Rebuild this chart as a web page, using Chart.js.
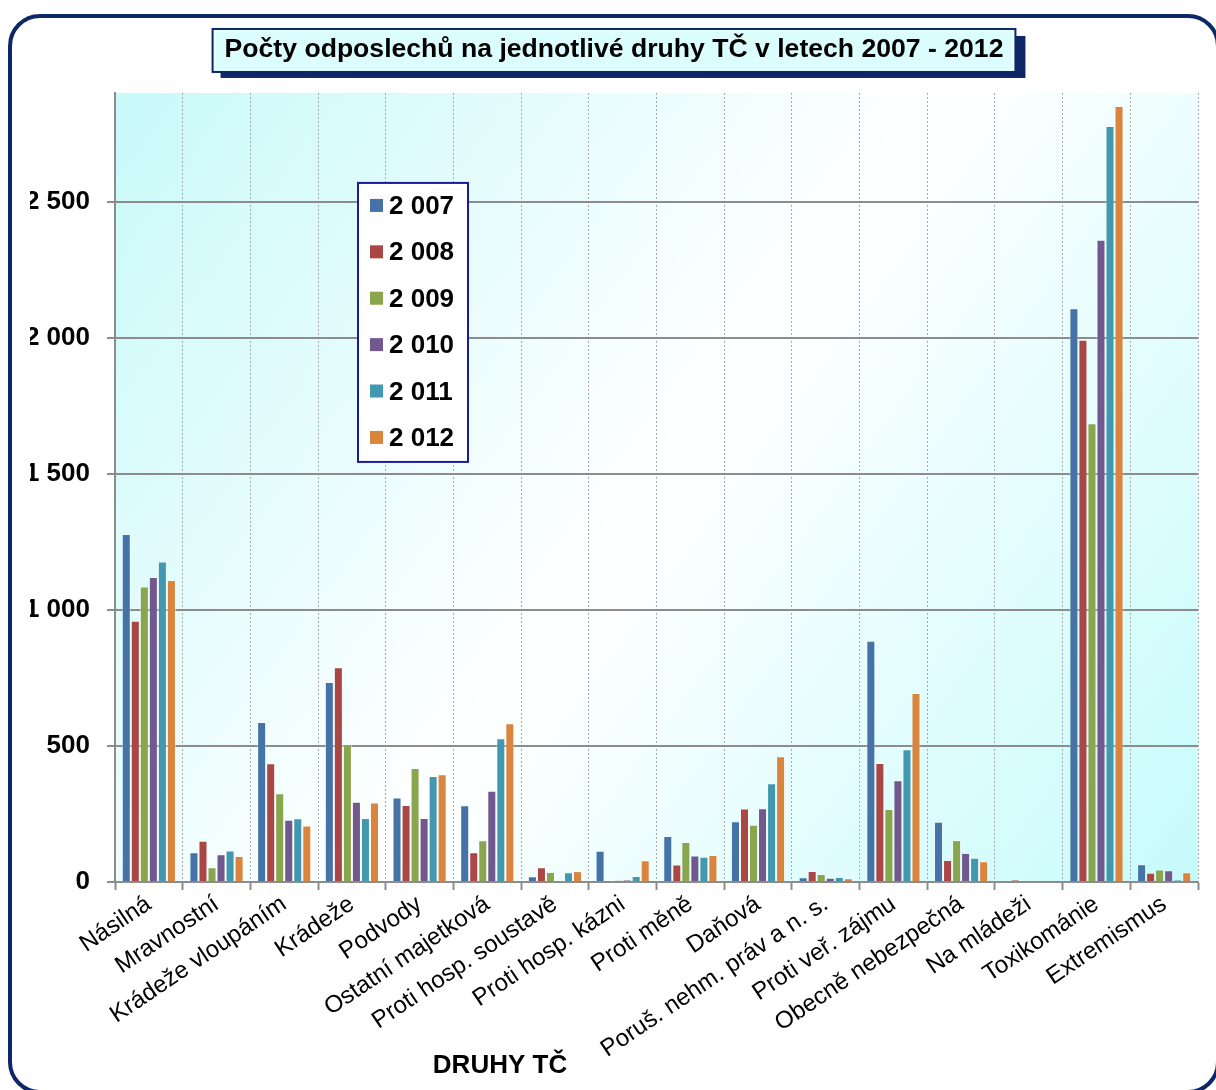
<!DOCTYPE html>
<html>
<head>
<meta charset="utf-8">
<title>Počty odposlechů</title>
<script src="https://cdn.jsdelivr.net/npm/chart.js@4"></script>
<style>
  body { margin: 0; background: #fff; }
  #wrap { position: relative; width: 1216px; height: 1090px; overflow: hidden; }
  #frame { position: absolute; left: 8px; top: 14px; width: 1212px; height: 1080px; border: 4px solid #0e2766; border-radius: 32px; box-sizing: border-box; pointer-events: none; }
</style>
</head>
<body>
<div id="wrap">
  <canvas id="myChart" width="1216" height="1090"></canvas>
  <div id="frame"></div>
</div>
<script>
const categories = ['Násilná', 'Mravnostní', 'Krádeže vloupáním', 'Krádeže', 'Podvody', 'Ostatní majetková',
    'Proti hosp. soustavě', 'Proti hosp. kázni', 'Proti měně', 'Daňová', 'Poruš. nehm. práv a n. s.',
    'Proti veř. zájmu', 'Obecně nebezpečná', 'Na mládeži', 'Toxikománie', 'Extremismus'];
const years = ['2 007', '2 008', '2 009', '2 010', '2 011', '2 012'];

const y2007 = [1279, 109, 588, 735, 311, 282, 21, 115, 169, 223, 17, 887, 221, 0, 2109, 65];
const y2008 = [960, 152, 436, 789, 283, 109, 54, 0, 64, 270, 40, 437, 81, 7, 1993, 34];
const y2009 = [1086, 54, 326, 507, 419, 153, 37, 6, 147, 210, 29, 268, 154, 0, 1686, 46];
const y2010 = [1121, 102, 229, 295, 235, 335, 0, 7, 97, 271, 16, 374, 107, 0, 2360, 43];
const y2011 = [1178, 116, 234, 235, 390, 528, 36, 22, 93, 363, 18, 488, 89, 0, 2778, 7];
const y2012 = [1110, 96, 208, 292, 396, 583, 40, 80, 99, 462, 14, 695, 76, 0, 2852, 36];

const yTicks = [0, 500, 1000, 1500, 2000, 2500];
const yMax = 2900;

const colors = ['#4572a7', '#aa4643', '#89a54e', '#71588f', '#4198af', '#db843d'];
const series = [y2007, y2008, y2009, y2010, y2011, y2012];

const FONT = '"Liberation Sans", Arial, sans-serif';

// 2500 -> "2 500"
const spaced = n => String(Math.round(n)).replace(/\B(?=(\d{3})+(?!\d))/g, ' ');

const plotBg = {
    id: 'plotBg',
    beforeDraw(chart) {
        const {ctx, chartArea: a} = chart;
        const g = ctx.createLinearGradient(a.left, a.top, a.right, a.bottom);
        g.addColorStop(0, '#c8f9f9');
        g.addColorStop(0.5, '#ffffff');
        g.addColorStop(1, '#c6fbfb');
        ctx.save();
        ctx.fillStyle = g;
        ctx.fillRect(a.left, a.top, a.right - a.left, a.bottom - a.top);
        ctx.restore();
    }
};

const titleBox = {
    id: 'titleBox',
    beforeDraw(chart) {
        const {ctx} = chart;
        const tb = chart.titleBlock;
        const opts = chart.options.plugins.title;
        ctx.save();
        ctx.font = 'bold ' + opts.font.size + 'px ' + FONT;
        const w = ctx.measureText(opts.text).width + 22;
        const cx = tb.left + tb.width / 2;
        const cy = tb.top + opts.padding.top + opts.font.size * 1.2 / 2;
        const x = cx - w / 2, y = cy - 20, h = 41;
        ctx.fillStyle = '#0e2766';
        ctx.fillRect(x + 7, y + 6, w + 4, h + 1);
        ctx.fillRect(x - 2, y - 2, w + 4, h + 4);
        ctx.fillStyle = '#dcfdfd';
        ctx.fillRect(x, y, w, h);
        ctx.strokeStyle = '#ffffff';
        ctx.lineWidth = 1;
        ctx.strokeRect(x + 1.5, y + 1.5, w - 3, h - 3);
        ctx.restore();
    }
};

const legendBox = {
    id: 'legendBox',
    afterDatasetsDraw(chart) {
        const {ctx, chartArea: a} = chart;
        const x = a.left + 243, y = a.top + 90, w = 110, h = 279;
        ctx.save();
        ctx.fillStyle = '#ffffff';
        ctx.fillRect(x, y, w, h);
        ctx.strokeStyle = '#1a1a9a';
        ctx.lineWidth = 2;
        ctx.strokeRect(x, y, w, h);
        ctx.font = 'bold 26px ' + FONT;
        ctx.textBaseline = 'middle';
        chart.data.datasets.forEach((ds, i) => {
            const cy = y + 23 + i * 46.4;
            ctx.fillStyle = ds.backgroundColor;
            ctx.fillRect(x + 12, cy - 7, 13, 13);
            ctx.fillStyle = '#000';
            ctx.fillText(ds.label, x + 31, cy + 1);
        });
        ctx.restore();
    }
};

const axisTitle = {
    id: 'axisTitle',
    afterDraw(chart) {
        const {ctx} = chart;
        ctx.save();
        ctx.font = 'bold 26px ' + FONT;
        ctx.fillStyle = '#000';
        ctx.textAlign = 'center';
        ctx.textBaseline = 'middle';
        ctx.fillText('DRUHY TČ', 500, 1066);
        ctx.restore();
    }
};

const ctx = document.getElementById('myChart').getContext('2d');
const myChart = new Chart(ctx, {
    type: 'bar',
    data: {
        labels: categories,
        datasets: series.map((d, i) => ({
            label: years[i],
            data: d,
            backgroundColor: colors[i],
            borderColor: 'rgba(255,255,255,0.45)',
            borderWidth: 1,
            categoryPercentage: 0.8,
            barPercentage: 1.0
        }))
    },
    options: {
        responsive: false,
        animation: false,
        layout: { padding: { left: 30, right: 18, top: 0, bottom: 0 } },
        plugins: {
            legend: { display: false },
            tooltip: { enabled: false },
            title: {
                display: true,
                text: 'Počty odposlechů na jednotlivé druhy TČ v letech 2007 - 2012',
                color: '#000',
                font: { family: FONT, size: 26.6, weight: 'bold' },
                padding: { top: 34, bottom: 27 }
            }
        },
        scales: {
            x: {
                grid: { color: '#a8a8a8', lineWidth: 1, offset: true, tickColor: '#8c8c8c', tickWidth: 2, tickLength: 8, tickBorderDash: [] },
                border: { color: '#8c8c8c', width: 2, dash: [2, 2] },
                ticks: {
                    color: '#000',
                    font: { family: FONT, size: 24 },
                    minRotation: 34,
                    maxRotation: 34,
                    autoSkip: false,
                    padding: 0
                },
                afterFit: s => { s.height = 208; }
            },
            y: {
                min: 0,
                max: yMax,
                grid: { color: '#8c8c8c', lineWidth: 2, tickLength: 8, tickColor: '#8c8c8c' },
                border: { color: '#8c8c8c', width: 2 },
                ticks: {
                    color: '#000',
                    padding: 17,
                    font: { family: FONT, size: 26, weight: 'bold' },
                    callback: v => spaced(v)
                },
                afterBuildTicks: s => { s.ticks = yTicks.map(v => ({ value: v })); },
                afterFit: s => { s.width = 85; }
            }
        }
    },
    plugins: [plotBg, titleBox, legendBox, axisTitle]
});
</script>
</body>
</html>
